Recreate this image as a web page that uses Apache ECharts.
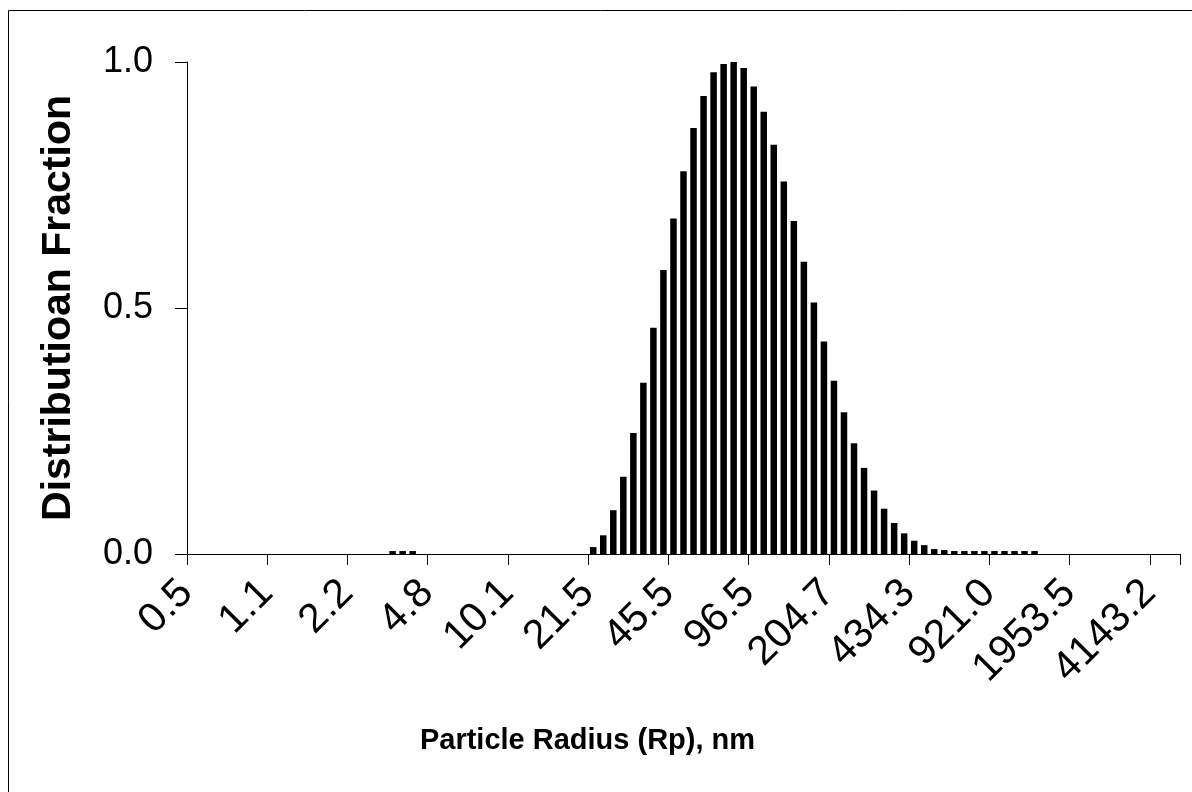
<!DOCTYPE html>
<html>
<head>
<meta charset="utf-8">
<script src="https://cdn.jsdelivr.net/npm/echarts@6/dist/echarts.min.js"></script>
<style>
html,body{margin:0;padding:0;background:#fff;}
#chart{width:1192px;height:792px;}
</style>
</head>
<body>
<div id="chart"></div>
<script>
// Particle radius bins (nm), log-spaced
const radii = [
  0.50, 0.55, 0.60, 0.66, 0.73, 0.80, 0.88, 0.97,
  1.06, 1.17, 1.28, 1.41, 1.54, 1.70, 1.86, 2.05,
  2.25, 2.47, 2.71, 2.98, 3.28, 3.60, 3.95, 4.34,
  4.77, 5.24, 5.76, 6.32, 6.95, 7.63, 8.38, 9.21,
  10.12, 11.12, 12.21, 13.41, 14.74, 16.19, 17.78, 19.53,
  21.46, 23.57, 25.90, 28.45, 31.25, 34.33, 37.71, 41.43,
  45.51, 50.00, 54.93, 60.34, 66.28, 72.82, 79.99, 87.87,
  96.53, 106.04, 116.49, 127.97, 140.58, 154.43, 169.65, 186.37,
  204.74, 224.91, 247.08, 271.43, 298.17, 327.55, 359.83, 395.29,
  434.24, 477.03, 524.04, 575.68, 632.40, 694.72, 763.17, 838.38,
  920.98, 1011.7, 1111.4, 1221.0, 1341.3, 1473.4, 1618.6, 1778.1,
  1953.4, 2145.9, 2357.3, 2589.6, 2844.8, 3125.1, 3433.1, 3771.4,
  4143.0, 4551.3, 4999.8
];
// Distribution fraction per bin
const fraction = [
  0, 0, 0, 0, 0, 0, 0, 0,
  0, 0, 0, 0, 0, 0, 0, 0,
  0, 0, 0, 0, 0.006, 0.006, 0.006, 0,
  0, 0, 0, 0, 0, 0, 0, 0,
  0, 0, 0, 0, 0, 0, 0, 0,
  0.014, 0.038, 0.089, 0.157, 0.246, 0.348, 0.460, 0.577,
  0.682, 0.778, 0.866, 0.931, 0.979, 0.996, 1.000, 0.988,
  0.950, 0.899, 0.832, 0.757, 0.677, 0.594, 0.511, 0.432,
  0.352, 0.288, 0.225, 0.175, 0.129, 0.092, 0.063, 0.042,
  0.027, 0.018, 0.010, 0.008, 0.006, 0.006, 0.006, 0.006,
  0.006, 0.006, 0.006, 0.006, 0.006, 0, 0, 0,
  0, 0, 0, 0, 0, 0, 0, 0,
  0, 0, 0
];
// Labels shown every 8th bin
const xTickLabels = ['0.5','1.1','2.2','4.8','10.1','21.5','45.5','96.5','204.7','434.3','921.0','1953.5','4143.2'];
const yTicks = [0, 0.5, 1.0];

const FONT = '"Liberation Sans", Arial, sans-serif';
const chart = echarts.init(document.getElementById('chart'));
chart.setOption({
  animation: false,
  backgroundColor: '#fff',
  grid: {left: 187, right: 12, top: 62, bottom: 238, containLabel: false},
  graphic: [{
    type: 'polyline',
    shape: {points: [[8.5, 792], [8.5, 10.5], [1192, 10.5]]},
    style: {stroke: '#000', lineWidth: 1, fill: null},
    silent: true
  }],
  xAxis: {
    type: 'category',
    data: radii,
    boundaryGap: true,
    name: 'Particle Radius (Rp), nm',
    nameLocation: 'middle',
    nameGap: 172,
    nameTextStyle: {fontFamily: FONT, fontWeight: 'bold', fontSize: 29, color: '#000', padding: [0, 192, 0, 0]},
    axisLine: {lineStyle: {color: '#000', width: 1}},
    axisTick: {show: true, interval: 7, length: 11, inside: false, lineStyle: {color: '#000'}},
    axisLabel: {
      interval: 7,
      rotate: 45,
      margin: 27,
      padding: [0, 8, 0, 0],
      fontFamily: FONT,
      fontSize: 41,
      color: '#000',
      formatter: function (v, idx) { return xTickLabels[idx / 8]; }
    },
    splitLine: {show: false}
  },
  yAxis: {
    type: 'value',
    min: 0,
    max: 1,
    interval: 0.5,
    name: 'Distributioan Fraction',
    nameLocation: 'middle',
    nameGap: 108,
    nameRotate: 90,
    nameTextStyle: {fontFamily: FONT, fontWeight: 'bold', fontSize: 41, color: '#000'},
    axisLine: {show: true, lineStyle: {color: '#000', width: 1}},
    axisTick: {show: true, length: 12, inside: false, lineStyle: {color: '#000'}},
    axisLabel: {
      margin: 34,
      fontFamily: FONT,
      fontSize: 36,
      color: '#000',
      customValues: yTicks,
      formatter: function (v) { return v.toFixed(1); }
    },
    splitLine: {show: false}
  },
  series: [{
    type: 'bar',
    data: fraction,
    barWidth: 6.5,
    itemStyle: {color: '#000'},
    silent: true
  }]
});
</script>
</body>
</html>
